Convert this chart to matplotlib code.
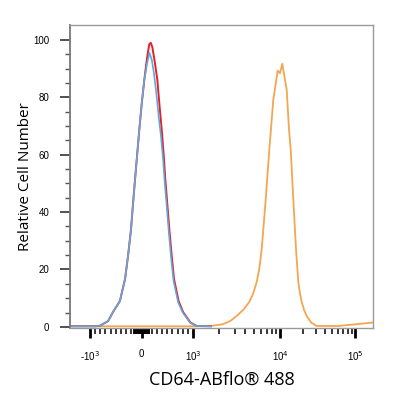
import numpy as np
import matplotlib
matplotlib.use("Agg")
import matplotlib.pyplot as plt

# histogram traces (x in fluorescence units, y in % of max)
red_x = [-1700, -900, -806, -650, -553, -420, -320, -260, -204, -165, -126, -85, -43, 5, 54,
         110, 150, 179, 210, 260, 307, 350, 392, 430, 462, 500, 540, 585, 631, 720, 806,
         950, 1103, 1600]
red_y = [0.2, 0.2, 0.4, 2, 5.2, 9, 16.7, 25, 34, 43, 51.4, 60, 68.75, 78, 86.1,
         94, 98.5, 99, 97.5, 92, 86.1, 77, 68.75, 60, 51.4, 43, 34, 25, 16.7, 9, 5.2,
         1.5, 0.3, 0.2]

blue_x = [-1700, -900, -806, -650, -553, -420, -320, -260, -204, -165, -126, -85, -43, 5, 54,
          110, 155, 200, 240, 290, 335, 380, 420, 452, 490, 530, 575, 622, 712, 800,
          945, 1100, 1600]
blue_y = [0.2, 0.2, 0.4, 2, 5.2, 9, 16.7, 25, 34, 43, 51.4, 60, 68.75, 78, 86.1,
          92, 95.5, 93, 88.5, 81, 73, 66, 58, 50, 42, 33, 24, 16, 8.5, 5,
          1.4, 0.3, 0.2]

orange_x = [-1700, 1000, 1568, 2200, 2700, 3180, 3800, 4438, 4900, 5399, 5800, 6164, 6852,
            7540, 8379, 9414, 10000, 10737, 11500, 12290, 13194, 13898, 15054, 16355,
            17552, 18500, 19486, 21000, 22715, 26000, 30871, 60000, 174000]
orange_y = [0.2, 0.2, 0.3, 0.9, 2.1, 3.8, 6, 8.7, 11.5, 15.6, 20.5, 27.1, 44.4,
            61.8, 79.2, 89.3, 88.4, 91.7, 87, 82.6, 68.75, 61.8, 44.4, 27.1,
            15.6, 11.5, 8.7, 5.8, 3.8, 1.5, 0.3, 0.3, 1.5]

xtick_vals = [-1000, 0, 1000, 10000, 100000]
xtick_labels = [r"-10$^3$", "0", r"10$^3$", r"10$^4$", r"10$^5$"]

# biexponential-like display: linear between -1e3 and 1e3, log outside
DEC = [0, 1, 2, 3]
U = [1, 1 + 87 / 51.5, 1 + 162 / 51.5, 1 + 237 / 51.5]


def fwd(x):
    x = np.asarray(x, float)
    a = np.abs(x)
    lg = np.log10(np.maximum(a, 1000) / 1000)
    big = np.interp(lg, DEC, U)
    return np.sign(x) * np.where(a <= 1000, a / 1000, big)


def inv(u):
    u = np.asarray(u, float)
    a = np.abs(u)
    lg = np.interp(a, U, DEC)
    big = 1000 * 10 ** lg
    return np.sign(u) * np.where(a <= 1, a * 1000, big)


fig = plt.figure(figsize=(4, 4), dpi=100)
ax = fig.add_axes([0.175, 0.18, 0.7575, 0.7575])
ax.set_xscale("function", functions=(fwd, inv))

ax.plot(orange_x, orange_y, color="#f4a650", lw=1.3)
ax.plot(red_x, red_y, color="#e3212a", lw=1.4)
ax.plot(blue_x, blue_y, color="#62a8dc", lw=1.2)

ax.set_xlim(-1700, 174000)
ax.set_ylim(-0.4, 105.2)

# x ticks
minor = [v for v in range(-900, 1000, 100) if v != 0]
minor += list(range(-150, 151, 12))
minor += [m * 1000 for m in range(2, 10)] + [m * 10000 for m in range(2, 10)]
ax.set_xticks(xtick_vals)
ax.set_xticklabels(xtick_labels, fontsize=7, family="Liberation Sans")
ax.set_xticks(minor, minor=True)
ax.tick_params(axis="x", which="major", direction="out", length=7, width=2, pad=8, color="black")
ax.tick_params(axis="x", which="minor", direction="out", length=4, width=1.1, color="black")

# y ticks
ax.set_yticks(range(0, 101, 20))
ax.set_yticks(range(0, 101, 5), minor=True)
ax.set_yticklabels([str(v) for v in range(0, 101, 20)], fontsize=7, family="Liberation Sans")
ax.tick_params(axis="y", which="major", direction="out", length=7, width=1.2, pad=8, color="#333333")
ax.tick_params(axis="y", which="minor", direction="out", length=3.5, width=1, color="#555555")

for side in ["top", "right", "bottom"]:
    ax.spines[side].set_color("#9a9a9a")
    ax.spines[side].set_linewidth(1)
ax.spines["left"].set_color("#777777")
ax.spines["left"].set_linewidth(1.3)

ax.set_ylabel("Relative Cell Number", fontsize=11, family="Open Sans")
ax.yaxis.set_label_coords(-0.122, 0.5)
ax.set_xlabel("CD64-ABflo® 488", fontsize=13, family="Open Sans")
ax.xaxis.set_label_coords(0.5, -0.14)

fig.savefig("out.png", dpi=100)
